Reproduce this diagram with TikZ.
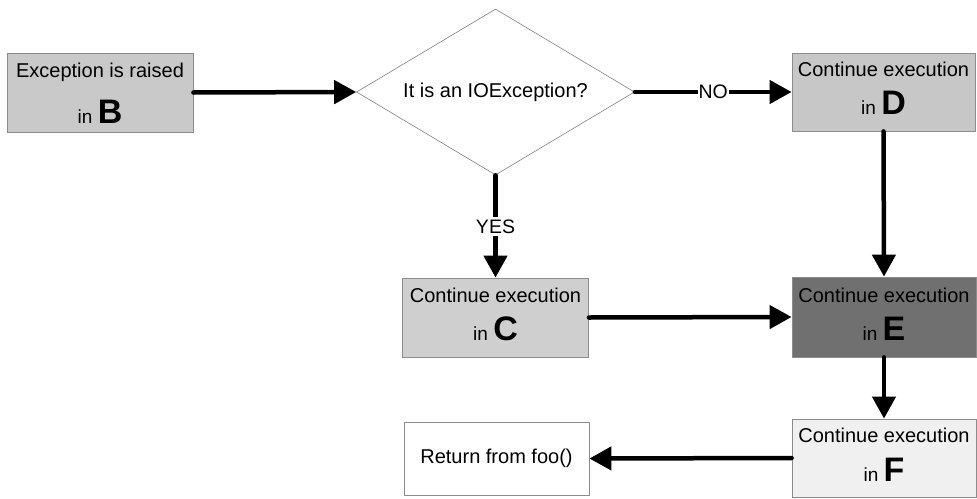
\documentclass[tikz,border=0pt]{standalone}
\usepackage{fontspec}
\setmainfont{Liberation Sans}
\usetikzlibrary{shapes.geometric,arrows.meta}

\tikzset{
  stepbox/.style={draw=black!45, line width=0.8pt, rectangle, inner sep=0pt},
  decision/.style={draw=black!50, line width=0.6pt, diamond, inner sep=0pt, fill=white},
  plaintext/.style={inner sep=0pt, font=\fontsize{20}{24}\selectfont},
  firstline/.style={anchor=base, inner sep=0pt, font=\fontsize{20}{24}\selectfont},
  secondline/.style={anchor=base, inner sep=0pt, font=\fontsize{19}{22}\selectfont},
  flow/.style={line width=4.5pt, line cap=round, -{Triangle[length=22pt,width=23pt]}},
  flowlabel/.style={fill=white, inner sep=1pt, font=\fontsize{19.5}{22}\selectfont}
}
\newcommand{\bigletter}[1]{{\fontsize{34}{36}\selectfont\bfseries #1}}

\begin{document}
\begin{tikzpicture}[x=1pt,y=-1pt]
  \useasboundingbox (0,0) rectangle (977,498);

  % process boxes
  \node[stepbox, fill=black!21, minimum width=186pt, minimum height=79pt] (B) at (100,92.5) {};
  \node[stepbox, fill=black!22, minimum width=183pt, minimum height=78pt] (D) at (883.5,92) {};
  \node[stepbox, fill=black!19, minimum width=186pt, minimum height=79pt] (C) at (495.5,317.5) {};
  \node[stepbox, fill=black!56, minimum width=184pt, minimum height=80pt] (E) at (884,317) {};
  \node[stepbox, fill=black!6, minimum width=184pt, minimum height=78pt] (F) at (884,458) {};
  \node[stepbox, fill=white, minimum width=185pt, minimum height=73pt] (R) at (496.5,458.5) {};
  \node[plaintext] (Rt) at (R.center) {Return from foo()};

  % decision
  \node[decision, minimum width=278pt, minimum height=166pt] (Q) at (495.5,92) {};
  \node[plaintext] (Qt) at (Q.center) {It is an IOException?};

  % box texts
  \node[firstline] (Bt) at ([yshift=-25pt]B.north) {Exception is raised};
  \node[secondline] (Bb) at ([yshift=9pt]B.south) {in \bigletter{B}};
  \node[firstline] (Dt) at ([yshift=-24pt]D.north) {Continue execution};
  \node[secondline] (Db) at ([yshift=17pt]D.south) {in \bigletter{D}};
  \node[firstline] (Ct) at ([yshift=-25pt]C.north) {Continue execution};
  \node[secondline] (Cb) at ([yshift=17pt]C.south) {in \bigletter{C}};
  \node[firstline] (Et) at ([yshift=-26pt]E.north) {Continue execution};
  \node[secondline] (Eb) at ([yshift=17pt]E.south) {in \bigletter{E}};
  \node[firstline] (Ft) at ([yshift=-24pt]F.north) {Continue execution};
  \node[secondline] (Fb) at ([yshift=16pt]F.south) {in \bigletter{F}};

  % connectors
  \draw[flow] (B.east) -- (Q.west);
  \draw[flow] (Q.east) -- node[flowlabel, pos=0.5] (no) {NO} (D.west);
  \draw[flow] (Q.south) -- node[flowlabel, pos=0.5, inner sep=3pt] (yes) {YES} (C.north);
  \draw[flow] (D.south) -- (E.north);
  \draw[flow] (C.east) -- (E.west);
  \draw[flow] (E.south) -- (F.north);
  \draw[flow] (F.west) -- (R.east);
\end{tikzpicture}
\end{document}
